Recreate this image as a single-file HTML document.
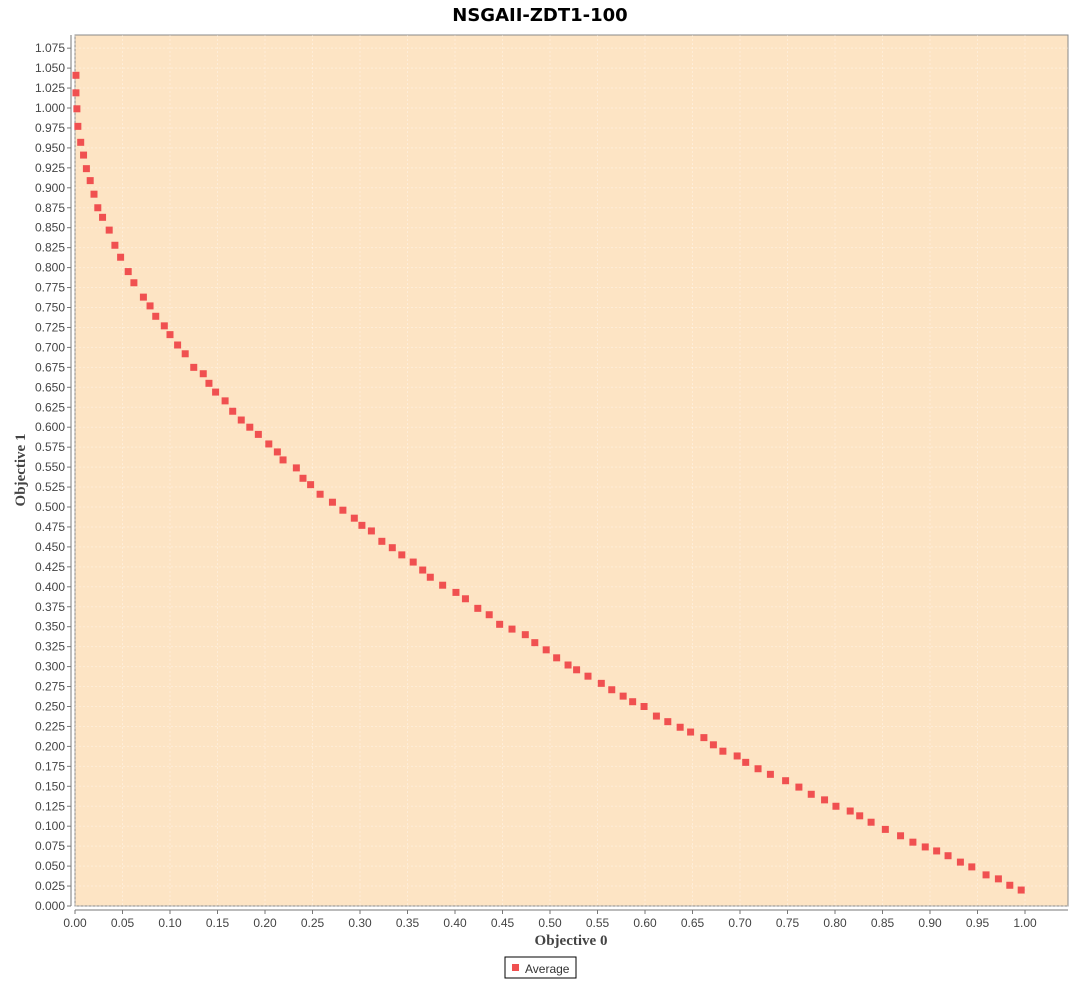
<!DOCTYPE html>
<html><head><meta charset="utf-8"><style>
body{margin:0;background:#fff;width:1080px;height:980px;overflow:hidden;font-family:"Liberation Sans",sans-serif}
</style></head><body>
<svg id="chart" width="1080" height="980" xmlns="http://www.w3.org/2000/svg">
<text x="540" y="21" text-anchor="middle" font-family="DejaVu Sans, sans-serif" font-weight="bold" font-size="18" fill="#000">NSGAII-ZDT1-100</text>
<rect x="75" y="35" width="993" height="871" fill="#fde4c4" stroke="#888" stroke-width="1"/>
<g id="grid"></g><g id="axes"></g><g id="pts"></g>
<text x="571" y="945" text-anchor="middle" font-family="Liberation Serif, serif" font-weight="bold" font-size="15" fill="#444">Objective 0</text>
<text transform="translate(25,470) rotate(-90)" text-anchor="middle" font-family="Liberation Serif, serif" font-weight="bold" font-size="15" fill="#444">Objective 1</text>
<g>
<rect x="505" y="957" width="71" height="21" fill="#fff" stroke="#000"/>
<rect x="512" y="964" width="7" height="7" fill="#f05050"/>
<text x="525" y="973" font-size="12" fill="#333">Average</text>
</g>
</svg>
<script>
const xValues=[0.001,0.001,0.002,0.003,0.006,0.009,0.012,0.016,0.020,0.024,0.029,0.036,0.042,0.048,0.056,0.062,0.072,0.079,0.085,0.094,0.100,0.108,0.116,0.125,0.135,0.141,0.148,0.158,0.166,0.175,0.184,0.193,0.204,0.213,0.219,0.233,0.240,0.248,0.258,0.271,0.282,0.294,0.302,0.312,0.323,0.334,0.344,0.356,0.366,0.374,0.387,0.401,0.411,0.424,0.436,0.447,0.460,0.474,0.484,0.496,0.507,0.519,0.528,0.540,0.554,0.565,0.577,0.587,0.599,0.612,0.624,0.637,0.648,0.662,0.672,0.682,0.697,0.706,0.719,0.732,0.748,0.762,0.775,0.789,0.801,0.816,0.826,0.838,0.853,0.869,0.882,0.895,0.907,0.919,0.932,0.944,0.959,0.972,0.984,0.996];
const yValues=[1.041,1.019,0.999,0.977,0.957,0.941,0.924,0.909,0.892,0.875,0.863,0.847,0.828,0.813,0.795,0.781,0.763,0.752,0.739,0.727,0.716,0.703,0.692,0.675,0.667,0.655,0.644,0.633,0.620,0.609,0.600,0.591,0.579,0.569,0.559,0.549,0.536,0.528,0.516,0.506,0.496,0.486,0.477,0.470,0.457,0.449,0.440,0.431,0.421,0.412,0.402,0.393,0.385,0.373,0.365,0.353,0.347,0.340,0.330,0.321,0.311,0.302,0.296,0.288,0.279,0.271,0.263,0.256,0.250,0.238,0.231,0.224,0.218,0.211,0.202,0.194,0.188,0.180,0.172,0.165,0.157,0.149,0.140,0.133,0.125,0.119,0.113,0.105,0.096,0.088,0.080,0.074,0.069,0.063,0.055,0.049,0.039,0.034,0.026,0.020];
const xTicks=[0,0.05,0.1,0.15,0.2,0.25,0.3,0.35,0.4,0.45,0.5,0.55,0.6,0.65,0.7,0.75,0.8,0.85,0.9,0.95,1.0];
const yTicks=[];for(let i=0;i<=43;i++)yTicks.push(i*0.025);
const NS='http://www.w3.org/2000/svg';
const X=v=>75+v*950, Y=v=>906-v*798;
function mk(t,a,p){const e=document.createElementNS(NS,t);for(const k in a)e.setAttribute(k,a[k]);p.appendChild(e);return e;}
const grid=document.getElementById('grid'),axes=document.getElementById('axes'),pts=document.getElementById('pts');
mk('line',{x1:71,y1:35,x2:71,y2:906,stroke:'#777'},axes);
mk('line',{x1:75,y1:910,x2:1068,y2:910,stroke:'#777'},axes);
xTicks.forEach(v=>{const x=X(v);
const g=mk('line',{x1:x,y1:35,x2:x,y2:906,stroke:'#fff','stroke-opacity':0.35,'stroke-dasharray':'2,2'},grid);

mk('line',{x1:x,y1:910,x2:x,y2:914,stroke:'#777'},axes);
const t=mk('text',{x:x,y:927,'text-anchor':'middle','font-size':12,fill:'#444'},axes);t.textContent=v.toFixed(2);
});
yTicks.forEach(v=>{const y=Y(v);
const g=mk('line',{x1:75,y1:y,x2:1068,y2:y,stroke:'#fff','stroke-opacity':0.35,'stroke-dasharray':'2,2'},grid);

mk('line',{x1:67,y1:y,x2:71,y2:y,stroke:'#777'},axes);
const t=mk('text',{x:65,y:y+4,'text-anchor':'end','font-size':12,fill:'#444'},axes);t.textContent=v.toFixed(3);
});
xValues.forEach((v,i)=>{const r=mk('rect',{x:X(v)-3.5,y:Y(yValues[i])-3.5,width:7,height:7,fill:'#f05050'},pts);
});
</script>
</body></html>
